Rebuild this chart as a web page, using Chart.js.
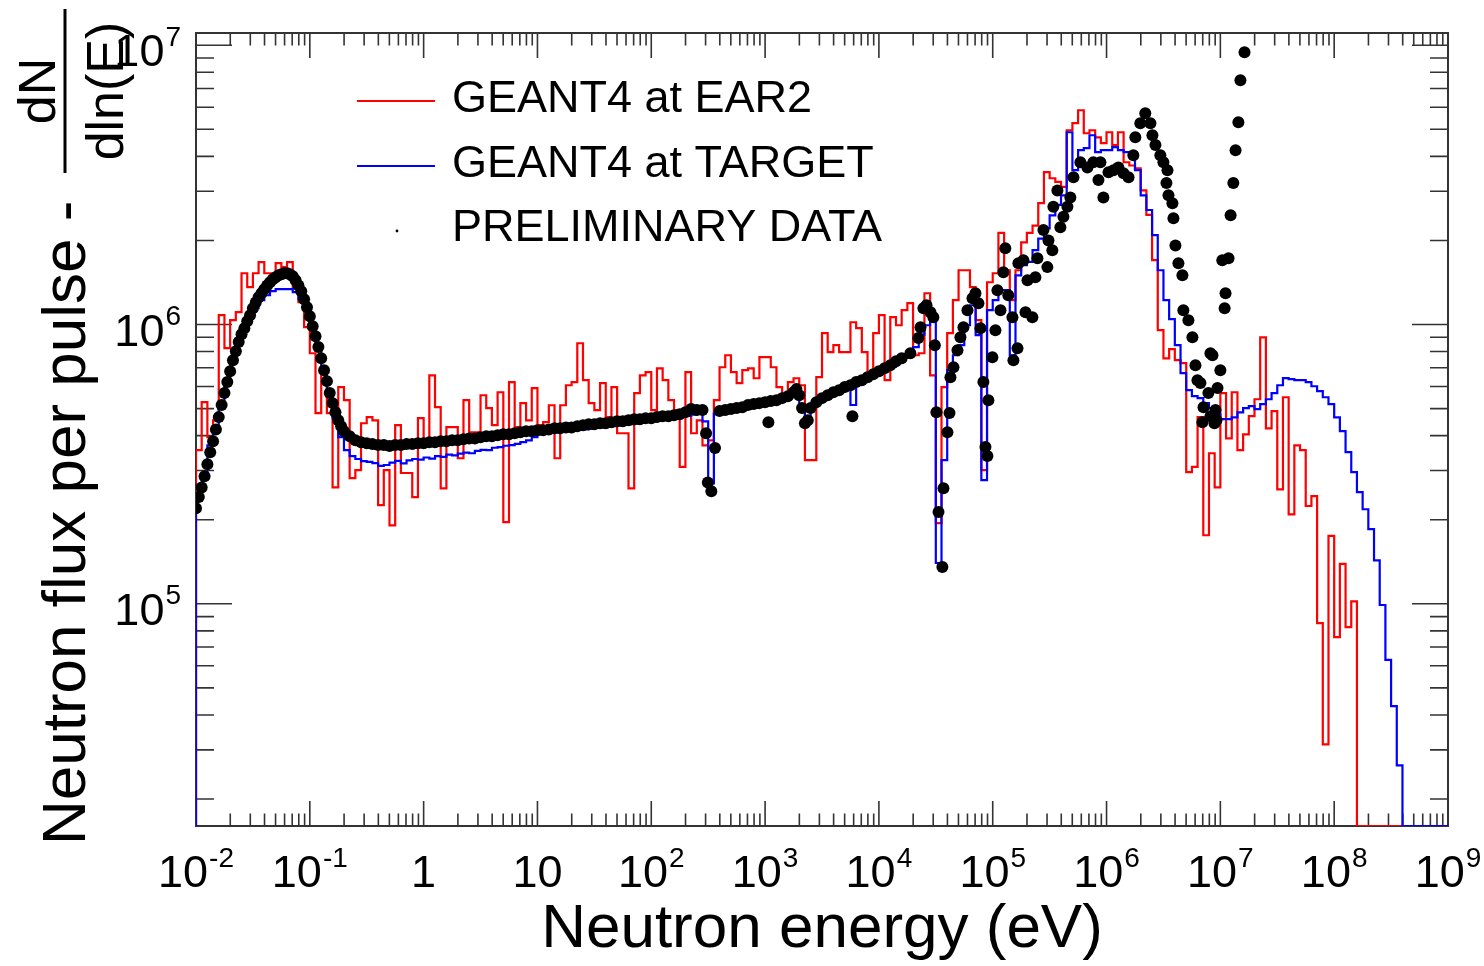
<!DOCTYPE html>
<html>
<head>
<meta charset="utf-8">
<script src="https://cdn.jsdelivr.net/npm/chart.js@4.4.1/dist/chart.umd.min.js"></script>
<style>
html,body{margin:0;padding:0;background:#fff;overflow:hidden}
canvas{display:block}
</style>
</head>
<body>
<canvas id="c" width="1484" height="966"></canvas>
<script>
// ---------------- data ----------------
const X_MIN = 1e-2, X_MAX = 1e9;
const Y_MIN = 1.601e4, Y_MAX = 1.106e7;
const LOG_E_MIN = -2, BINS_PER_DECADE = 20, N_BINS = 220;

const X_TICK_VALUES = [1e-2, 1e-1, 1, 10, 1e2, 1e3, 1e4, 1e5, 1e6, 1e7, 1e8, 1e9];
const X_TICK_LABELS = ['10⁻²', '10⁻¹', '1', '10', '10²', '10³', '10⁴', '10⁵', '10⁶', '10⁷', '10⁸', '10⁹'];
const Y_TICK_VALUES = [1e5, 1e6, 1e7];
const Y_TICK_LABELS = ['10⁵', '10⁶', '10⁷'];

const SERIES_NAMES = ['GEANT4 at EAR2', 'GEANT4 at TARGET', 'PRELIMINARY DATA'];
const X_TITLE = 'Neutron energy (eV)';
const Y_TITLE = 'Neutron flux per pulse -';
const Y_TITLE_NUM = 'dN';
const Y_TITLE_DEN = 'dln(E)';

// GEANT4 at EAR2 (red histogram), one value per bin, 20 bins / decade from 1e-2 eV
const EAR2_FLUX = [
  3.55e5, 5.27e5, 3.95e5, 4.54e5, 1.08e6, 8.23e5, 1.036e6, 1.107e6, 1.526e6, 1.36e6, 1.526e6, 1.672e6, 1.526e6, 1.526e6, 1.658e6, 1.605e6, 1.672e6, 1.349e6, 1.202e6, 9.78e5,
  7.89e5, 4.82e5, 7.03e5, 4.82e5, 2.61e5, 5.97e5, 5.36e5, 2.82e5, 3.01e5, 4.43e5, 4.66e5, 4.54e5, 2.255e5, 3.01e5, 1.91e5, 4.36e5, 2.94e5, 2.94e5, 2.41e5, 4.62e5,
  3.85e5, 6.58e5, 5.06e5, 2.59e5, 4.29e5, 4.29e5, 3.32e5, 5.36e5, 4.11e5, 4.11e5, 5.58e5, 5.02e5, 4.36e5, 5.72e5, 1.96e5, 6.22e5, 4.29e5, 5.23e5, 4.54e5, 5.92e5,
  4.36e5, 4.47e5, 5.14e5, 3.32e5, 5.14e5, 6.06e5, 6.22e5, 8.57e5, 6.32e5, 5.23e5, 4.94e5, 6.17e5, 4.66e5, 5.97e5, 4.08e5, 4.08e5, 2.59e5, 5.68e5, 6.58e5, 6.75e5,
  4.94e5, 6.97e5, 6.32e5, 5.36e5, 4.94e5, 3.09e5, 6.75e5, 4.08e5, 4.54e5, 3.69e5, 3.85e5, 5.36e5, 7.03e5, 7.76e5, 6.75e5, 6.17e5, 6.86e5, 6.97e5, 6.42e5, 7.64e5,
  7.64e5, 7.03e5, 5.97e5, 5.58e5, 6.22e5, 6.42e5, 6.06e5, 3.27e5, 3.27e5, 6.48e5, 9.31e5, 7.96e5, 8.43e5, 7.96e5, 7.96e5, 1.019e6, 9.70e5, 7.96e5, 6.69e5, 9.31e5,
  1.08e6, 6.32e5, 1.062e6, 9.94e5, 1.125e6, 1.192e6, 7.76e5, 7.89e5, 1.294e6, 6.58e5, 1.944e5, 5.97e5, 9.31e5, 1.222e6, 1.564e6, 1.564e6, 1.36e6, 1.036e6, 3.01e5, 1.417e6,
  1.526e6, 2.13e6, 1.564e6, 1.222e6, 1.564e6, 1.967e6, 2.13e6, 2.26e6, 2.72e6, 3.51e6, 3.34e6, 3.24e6, 3.11e6, 4.96e6, 5.26e6, 5.85e6, 4.84e6, 4.96e6, 4.68e6, 4.46e6,
  4.88e6, 4.39e6, 4.88e6, 3.81e6, 3.71e6, 3.62e6, 3.02e6, 2.47e6, 1.70e6, 9.54e5, 7.57e5, 8.16e5, 7.45e5, 7.27e5, 2.96e5, 3.09e5, 4.66e5, 1.76e5, 3.46e5, 2.61e5,
  5.68e5, 3.91e5, 5.72e5, 3.55e5, 4.04e5, 4.70e5, 5.40e5, 9.00e5, 4.25e5, 4.90e5, 2.57e5, 5.49e5, 2.09e5, 3.69e5, 3.55e5, 2.24e5, 2.43e5, 8.53e4, 3.14e4, 1.75e5,
  7.60e4, 1.39e5, 8.25e4, 1.02e5, 0, 0, 0, 0, 0, 0, 0, 0, 0, 0, 0, 0, 0, 0, 0, 0
];

// GEANT4 at TARGET (blue histogram)
const TARGET_FLUX = [
  2.35e5, 2.89e5, 3.69e5, 4.25e5, 5.14e5, 6.06e5, 7.33e5, 8.43e5, 9.54e5, 1.053e6, 1.144e6, 1.222e6, 1.273e6, 1.316e6, 1.338e6, 1.338e6, 1.338e6, 1.305e6, 1.232e6, 1.144e6,
  9.70e5, 8.37e5, 6.97e5, 5.72e5, 4.62e5, 3.95e5, 3.55e5, 3.38e5, 3.30e5, 3.24e5, 3.22e5, 3.19e5, 3.12e5, 3.14e5, 3.20e5, 3.25e5, 3.18e5, 3.26e5, 3.30e5, 3.28e5,
  3.34e5, 3.31e5, 3.38e5, 3.36e5, 3.42e5, 3.40e5, 3.45e5, 3.48e5, 3.46e5, 3.53e5, 3.56e5, 3.55e5, 3.62e5, 3.64e5, 3.68e5, 3.70e5, 3.74e5, 3.79e5, 3.85e5, 3.95e5,
  4.05e5, 4.07e5, 4.09e5, 4.11e5, 4.13e5, 4.15e5, 4.17e5, 4.19e5, 4.21e5, 4.24e5, 4.26e5, 4.28e5, 4.31e5, 4.33e5, 4.35e5, 4.37e5, 4.40e5, 4.42e5, 4.45e5, 4.48e5,
  4.51e5, 4.54e5, 4.57e5, 4.60e5, 4.63e5, 4.67e5, 4.71e5, 4.76e5, 4.81e5, 4.50e5, 2.70e5, 4.80e5, 4.84e5, 4.87e5, 4.92e5, 4.96e5, 5.02e5, 5.08e5, 5.12e5, 5.17e5,
  5.20e5, 5.25e5, 5.30e5, 5.38e5, 5.50e5, 5.68e5, 5.00e5, 4.60e5, 5.10e5, 5.30e5, 5.45e5, 5.55e5, 5.65e5, 5.75e5, 5.85e5, 5.15e5, 6.10e5, 6.25e5, 6.40e5, 6.55e5,
  6.72e5, 6.90e5, 7.05e5, 7.30e5, 7.60e5, 7.90e5, 8.30e5, 9.20e5, 9.94e5, 1.036e6, 1.40e5, 3.27e5, 6.86e5, 7.76e5, 8.43e5, 9.94e5, 1.172e6, 9.16e5, 2.77e5, 1.125e6,
  1.222e6, 1.327e6, 1.327e6, 7.76e5, 1.50e6, 1.63e6, 1.675e6, 1.845e6, 2.03e6, 2.21e6, 2.46e6, 2.68e6, 2.90e6, 4.88e6, 3.57e6, 4.21e6, 4.28e6, 4.76e6, 4.14e6, 4.21e6,
  4.21e6, 4.32e6, 4.21e6, 4.14e6, 4.04e6, 3.57e6, 2.90e6, 2.57e6, 2.09e6, 1.564e6, 1.222e6, 1.045e6, 8.43e5, 6.70e5, 5.82e5, 5.54e5, 5.45e5, 5.23e5, 5.02e5, 4.77e5,
  4.58e5, 4.58e5, 4.65e5, 4.85e5, 5.02e5, 5.10e5, 4.98e5, 5.19e5, 5.40e5, 5.68e5, 6.06e5, 6.43e5, 6.37e5, 6.32e5, 6.32e5, 6.22e5, 6.01e5, 5.77e5, 5.49e5, 5.19e5,
  4.65e5, 4.15e5, 3.49e5, 2.96e5, 2.51e5, 2.18e5, 1.85e5, 1.43e5, 9.9e4, 6.3e4, 4.3e4, 2.64e4, 0, 0, 0, 0, 0, 0, 0, 0
];

// PRELIMINARY DATA: [energy (eV), flux]
const DATA_POINTS = [
  [0.0100,2.20e5],[0.01059,2.41e5],[0.01122,2.61e5],[0.01189,2.86e5],[0.01259,3.16e5],[0.01334,3.49e5],[0.01413,3.82e5],
  [0.01496,4.21e5],[0.01585,4.66e5],[0.01679,5.15e5],[0.01778,5.68e5],[0.01884,6.22e5],[0.01995,6.80e5],[0.02113,7.45e5],
  [0.02239,8.02e5],[0.02371,8.65e5],[0.02512,9.23e5],[0.02661,9.70e5],[0.02818,1.027e6],[0.02985,1.08e6],[0.03162,1.144e6],
  [0.03350,1.20e6],[0.03548,1.252e6],[0.03758,1.294e6],[0.03981,1.338e6],[0.04217,1.38e6],[0.04467,1.417e6],[0.04732,1.453e6],
  [0.05012,1.477e6],[0.05309,1.50e6],[0.05623,1.514e6],[0.05957,1.526e6],[0.06310,1.526e6],[0.06683,1.514e6],[0.07079,1.489e6],
  [0.07499,1.441e6],[0.07943,1.38e6],
  [0.08414,1.316e6],[0.08913,1.232e6],[0.09441,1.154e6],[0.1000,1.071e6],[0.1059,9.86e5],[0.1122,9.08e5],[0.1189,8.30e5],
  [0.1259,7.57e5],[0.1334,6.86e5],[0.1413,6.27e5],[0.1496,5.68e5],[0.1585,5.23e5],[0.1679,4.85e5],[0.1778,4.54e5],
  [0.1884,4.32e5],[0.1995,4.15e5],
  [0.2239,3.98e5],[0.2512,3.85e5],[0.2818,3.79e5],[0.3162,3.76e5],[0.3548,3.73e5],[0.3981,3.70e5],[0.4467,3.70e5],
  [0.5012,3.67e5],[0.5623,3.70e5],[0.6310,3.70e5],[0.7079,3.73e5],[0.7943,3.73e5],[0.8913,3.76e5],[1.000,3.76e5],
  [1.122,3.79e5],[1.259,3.79e5],[1.413,3.82e5],[1.585,3.82e5],[1.778,3.85e5],[1.995,3.85e5],[2.239,3.88e5],
  [2.512,3.91e5],[2.818,3.91e5],[3.162,3.95e5],[3.548,3.98e5],[3.981,3.98e5],[4.467,4.01e5],[5.012,4.05e5],
  [5.623,4.05e5],[6.310,4.08e5],[7.079,4.11e5],[7.943,4.15e5],[8.913,4.15e5],[10.00,4.18e5],[11.22,4.18e5],
  [12.59,4.21e5],[14.13,4.25e5],[15.85,4.25e5],[17.78,4.28e5],[19.95,4.28e5],[22.39,4.32e5],[25.12,4.36e5],
  [28.18,4.39e5],[31.62,4.39e5],[35.48,4.43e5],[39.81,4.43e5],[44.67,4.47e5],[50.12,4.50e5],[56.23,4.50e5],
  [63.10,4.54e5],[70.79,4.58e5],[79.43,4.58e5],[89.13,4.62e5],[100.0,4.62e5],[112.2,4.66e5],[125.9,4.69e5],
  [141.3,4.69e5],[158.5,4.73e5],[177.8,4.77e5],[199.5,4.85e5],[223.9,4.98e5],[251.2,4.94e5],[281.8,4.94e5],
  [303,4.08e5],[314,2.72e5],[337,2.53e5],[363,3.61e5],
  [398.1,4.90e5],[446.7,4.94e5],[501.2,4.98e5],[562.3,5.02e5],[631.0,5.06e5],[707.9,5.15e5],[794.3,5.19e5],
  [891.3,5.23e5],[1000,5.27e5],[1122,5.32e5],[1259,5.36e5],[1413,5.45e5],[1585,5.54e5],[1778,5.72e5],
  [1884,5.87e5],[1995,5.58e5],[2113,5.02e5],[2239,4.43e5],[2371,4.54e5],[2512,5.02e5],[2818,5.27e5],
  [3162,5.45e5],[3548,5.58e5],[3981,5.72e5],[4467,5.82e5],[5012,5.97e5],[5623,6.06e5],[6310,6.22e5],
  [7079,6.32e5],[7943,6.48e5],[8913,6.64e5],[10000,6.80e5],[11220,6.97e5],[12590,7.15e5],[14130,7.39e5],
  [15850,7.57e5],
  [1069,4.47e5],[5850,4.69e5],
  [1.89e4,7.89e5],[2.22e4,8.94e5],[2.32e4,9.78e5],[2.46e4,1.144e6],[2.62e4,1.172e6],[2.84e4,1.107e6],[3.01e4,1.062e6],
  [3.10e4,8.43e5],[3.20e4,4.85e5],[3.34e4,2.13e5],[3.61e4,1.354e5],[3.69e4,2.59e5],[4.00e4,4.11e5],[4.17e4,4.82e5],
  [4.25e4,6.48e5],[4.52e4,7.03e5],[4.90e4,8.09e5],[5.20e4,9.00e5],[5.53e4,9.78e5],[6.00e4,1.125e6],[6.64e4,1.242e6],
  [7.05e4,1.294e6],[7.49e4,1.192e6],[7.80e4,9.70e5],[8.28e4,6.22e5],[8.63e4,3.64e5],[8.98e4,3.38e5],[9.16e4,5.36e5],
  [9.93e4,7.64e5],[1.056e5,9.54e5],[1.10e5,1.327e6],[1.17e5,1.125e6],[1.24e5,1.538e6],[1.29e5,1.876e6],[1.37e5,1.273e6],
  [1.49e5,1.062e6],[1.52e5,7.45e5],[1.65e5,8.23e5],[1.68e5,1.658e6],[1.86e5,1.70e6],[1.94e5,1.107e6],[2.02e5,1.441e6],
  [2.23e5,1.062e6],[2.37e5,1.477e6],[2.47e5,1.728e6],[2.79e5,2.18e6],[3.02e5,1.605e6],[3.09e5,2.00e6],[3.34e5,1.845e6],
  [3.41e5,2.64e6],[3.70e5,3.02e6],[3.93e5,2.23e6],[4.18e5,2.43e6],[4.53e5,2.64e6],[4.81e5,2.85e6],[5.12e5,3.37e6],
  [5.89e5,3.81e6],[6.79e5,3.65e6],[7.66e5,3.81e6],[8.49e5,3.29e6],[8.83e5,3.81e6],[9.38e5,2.85e6],[1.04e6,3.51e6],
  [1.15e6,3.57e6],[1.27e6,3.65e6],[1.41e6,3.48e6],[1.56e6,3.37e6],[1.72e6,4.04e6],[1.79e6,4.68e6],[1.98e6,5.26e6],
  [2.19e6,5.71e6],[2.43e6,5.26e6],[2.53e6,4.76e6],[2.69e6,4.39e6],[2.97e6,4.04e6],[3.16e6,3.81e6],[3.36e6,3.21e6],
  [3.43e6,3.57e6],[3.50e6,2.90e6],[3.79e6,2.72e6],[3.87e6,2.40e6],[4.03e6,1.92e6],[4.28e6,1.658e6],[4.64e6,1.50e6],
  [4.73e6,1.125e6],[5.24e6,1.036e6],[5.68e6,9.00e5],[6.04e6,7.15e5],[6.29e6,6.32e5],[6.68e6,6.17e5],[6.95e6,4.47e5],
  [7.11e6,5.06e5],[7.85e6,5.68e5],[8.18e6,7.89e5],[8.18e6,4.69e5],[8.52e6,7.76e5],[8.87e6,4.43e5],[9.06e6,4.94e5],
  [9.24e6,4.54e5],[9.44e6,5.92e5],[1.00e7,6.86e5],[1.04e7,1.70e6],[1.09e7,1.144e6],[1.11e7,1.294e6],[1.18e7,1.728e6],
  [1.23e7,2.46e6],[1.30e7,3.21e6],[1.36e7,4.21e6],[1.44e7,5.30e6],[1.50e7,7.49e6],[1.63e7,9.43e6]
];

// ---------------- build ----------------
const FONT = "'Liberation Sans', Arial, Helvetica, sans-serif";
Chart.defaults.font.family = FONT;

const BIN_EDGES = Array.from({length: N_BINS + 1}, (_, k) => Math.pow(10, LOG_E_MIN + k / BINS_PER_DECADE));

function histogramPoints(values) {
  // empty bins are drawn on the lower frame, as ROOT does
  const onFrame = v => (v > 0 ? v : Y_MIN);
  const pts = [{x: BIN_EDGES[0], y: Y_MIN}];
  values.forEach((v, i) => pts.push({x: BIN_EDGES[i], y: onFrame(v)}));
  pts.push({x: BIN_EDGES[values.length], y: onFrame(values[values.length - 1])});
  return pts;
}

const frameAndTicks = {
  id: 'frameAndTicks',
  beforeDatasetsDraw(chart) {
    const {ctx, chartArea: a, scales} = chart;
    const xs = scales.x, ys = scales.y;
    ctx.save();
    ctx.strokeStyle = '#333';
    ctx.lineWidth = 2;
    ctx.strokeRect(a.left, a.top, a.right - a.left, a.bottom - a.top);
    ctx.lineWidth = 1.6;
    ctx.beginPath();
    const each = (s, fn) => {
      const lo = Math.floor(Math.log10(s.min)), hi = Math.ceil(Math.log10(s.max));
      for (let d = lo; d <= hi; d++) for (let m = 1; m <= 9; m++) {
        const v = m * Math.pow(10, d);
        if (v < s.min * 0.9999 || v > s.max * 1.0001) continue;
        fn(s.getPixelForValue(v), m === 1);
      }
    };
    each(xs, (px, major) => {
      const len = major ? 25 : 12.5;
      ctx.moveTo(px, a.bottom); ctx.lineTo(px, a.bottom - len);
      ctx.moveTo(px, a.top); ctx.lineTo(px, a.top + len);
    });
    each(ys, (py, major) => {
      const len = major ? 36 : 18;
      ctx.moveTo(a.left, py); ctx.lineTo(a.left + len, py);
      ctx.moveTo(a.right, py); ctx.lineTo(a.right - len, py);
    });
    ctx.stroke();
    ctx.restore();
  }
};

// ROOT-style "10^n" labels: the tick labels of the library's axes, typeset with a raised exponent
const SUP_MAP = {'⁰':'0','¹':'1','²':'2','³':'3','⁴':'4','⁵':'5','⁶':'6','⁷':'7','⁸':'8','⁹':'9','⁻':'-'};
function splitPower(label) {
  let base = '', exp = '';
  for (const ch of String(label)) { if (SUP_MAP[ch] !== undefined) exp += SUP_MAP[ch]; else base += ch; }
  return [base, exp];
}
const powerLabels = {
  id: 'powerLabels',
  afterDraw(chart) {
    const {ctx, chartArea: a, scales} = chart;
    ctx.save();
    ctx.fillStyle = '#000';
    ctx.textBaseline = 'alphabetic';
    ctx.textAlign = 'left';
    const draw = (label, anchorX, baseY, align) => {
      const [base, exp] = splitPower(label);
      ctx.font = '45px ' + FONT; const wb = ctx.measureText(base).width;
      ctx.font = '28px ' + FONT; const we = exp ? ctx.measureText(exp).width + 1 : 0;
      const total = wb + we;
      const x0 = align === 'center' ? anchorX - total / 2 : anchorX - total;
      ctx.font = '45px ' + FONT; ctx.fillText(base, x0, baseY);
      if (exp) { ctx.font = '28px ' + FONT; ctx.fillText(exp, x0 + wb + 1, baseY - 20.5); }
    };
    scales.x.ticks.forEach((t, i) => {
      const lbl = t.label !== undefined ? t.label : X_TICK_LABELS[i];
      draw(lbl, scales.x.getPixelForValue(t.value), a.bottom + 61, 'center');
    });
    scales.y.ticks.forEach((t, i) => {
      const lbl = t.label !== undefined ? t.label : Y_TICK_LABELS[i];
      draw(lbl, a.left - 15, scales.y.getPixelForValue(t.value) + 21, 'right');
    });
    ctx.restore();
  }
};

const rootLegend = {
  id: 'rootLegend',
  afterDraw(chart) {
    const {ctx} = chart;
    const rows = [2, 1, 0];
    const rowY = [100, 165, 229];
    ctx.save();
    ctx.font = '45px ' + FONT;
    ctx.textBaseline = 'middle';
    ctx.textAlign = 'left';
    rows.forEach((di, r) => {
      const ds = chart.data.datasets[di];
      const y = rowY[r];
      if (ds.showLine === false) {
        ctx.fillStyle = ds.pointBackgroundColor;
        ctx.beginPath(); ctx.arc(397, y + 2, 1.4, 0, 2 * Math.PI); ctx.fill();
      } else {
        ctx.strokeStyle = ds.borderColor; ctx.lineWidth = 2;
        ctx.beginPath(); ctx.moveTo(357, y + 1); ctx.lineTo(435, y + 1); ctx.stroke();
      }
      ctx.fillStyle = '#000';
      ctx.fillText(ds.label, 452, y);
    });
    ctx.restore();
  }
};

const yTitle = {
  id: 'yTitle',
  afterDraw(chart) {
    const {ctx} = chart;
    ctx.save();
    ctx.fillStyle = '#000';
    ctx.textBaseline = 'alphabetic';
    ctx.save(); ctx.translate(85, 845); ctx.rotate(-Math.PI / 2);
    ctx.font = '62px ' + FONT; ctx.textAlign = 'left'; ctx.fillText(Y_TITLE, 0, 0); ctx.restore();
    ctx.save(); ctx.translate(55, 91); ctx.rotate(-Math.PI / 2);
    ctx.font = '52px ' + FONT; ctx.textAlign = 'center'; ctx.fillText(Y_TITLE_NUM, 0, 0); ctx.restore();
    ctx.fillRect(63.5, 9, 3, 164);
    ctx.save(); ctx.translate(123, 91); ctx.rotate(-Math.PI / 2);
    ctx.font = '52px ' + FONT; ctx.textAlign = 'center'; ctx.fillText(Y_TITLE_DEN, 0, 0); ctx.restore();
    ctx.restore();
  }
};

new Chart(document.getElementById('c'), {
  type: 'line',
  data: {
    datasets: [
      {
        label: SERIES_NAMES[2],
        data: DATA_POINTS.map(p => ({x: p[0], y: p[1]})),
        showLine: false,
        pointRadius: 6,
        pointBackgroundColor: '#000000',
        pointBorderWidth: 0,
        borderColor: '#000000'
      },
      {
        label: SERIES_NAMES[1],
        data: histogramPoints(TARGET_FLUX),
        borderColor: '#0000ff',
        borderWidth: 2.2,
        stepped: 'before',
        pointRadius: 0,
        fill: false
      },
      {
        label: SERIES_NAMES[0],
        data: histogramPoints(EAR2_FLUX),
        borderColor: '#ff0000',
        borderWidth: 2.2,
        stepped: 'before',
        pointRadius: 0,
        fill: false
      }
    ]
  },
  options: {
    responsive: false,
    animation: false,
    devicePixelRatio: 1,
    events: [],
    layout: {padding: {top: 33, right: 36, left: 0, bottom: 0}},
    plugins: {legend: {display: false}, tooltip: {enabled: false}},
    scales: {
      x: {
        type: 'logarithmic',
        min: X_MIN, max: X_MAX, bounds: 'data',
        afterBuildTicks: s => { s.ticks = X_TICK_VALUES.map(v => ({value: v})); },
        afterFit: s => { s.height = 140; s.paddingLeft = 0; s.paddingRight = 0; },
        grid: {display: false, drawTicks: false},
        border: {display: false},
        ticks: {
          display: false, autoSkip: false, maxRotation: 0, minRotation: 0,
          major: {enabled: false},
          font: {size: 45, family: FONT},
          callback: (v, i) => X_TICK_LABELS[i]
        },
        title: {
          display: true, text: X_TITLE, color: '#000',
          font: {size: 62, family: FONT, lineHeight: 1},
          padding: {top: 0, bottom: 5}
        }
      },
      y: {
        type: 'logarithmic',
        min: Y_MIN, max: Y_MAX, bounds: 'data',
        afterBuildTicks: s => { s.ticks = Y_TICK_VALUES.map(v => ({value: v})); },
        afterFit: s => { s.width = 196; s.paddingTop = 0; s.paddingBottom = 0; },
        grid: {display: false, drawTicks: false},
        border: {display: false},
        ticks: {
          display: false, autoSkip: false,
          major: {enabled: false},
          font: {size: 45, family: FONT},
          callback: (v, i) => Y_TICK_LABELS[i]
        },
        title: {display: false}
      }
    }
  },
  plugins: [frameAndTicks, powerLabels, rootLegend, yTitle]
});
</script>
</body>
</html>
